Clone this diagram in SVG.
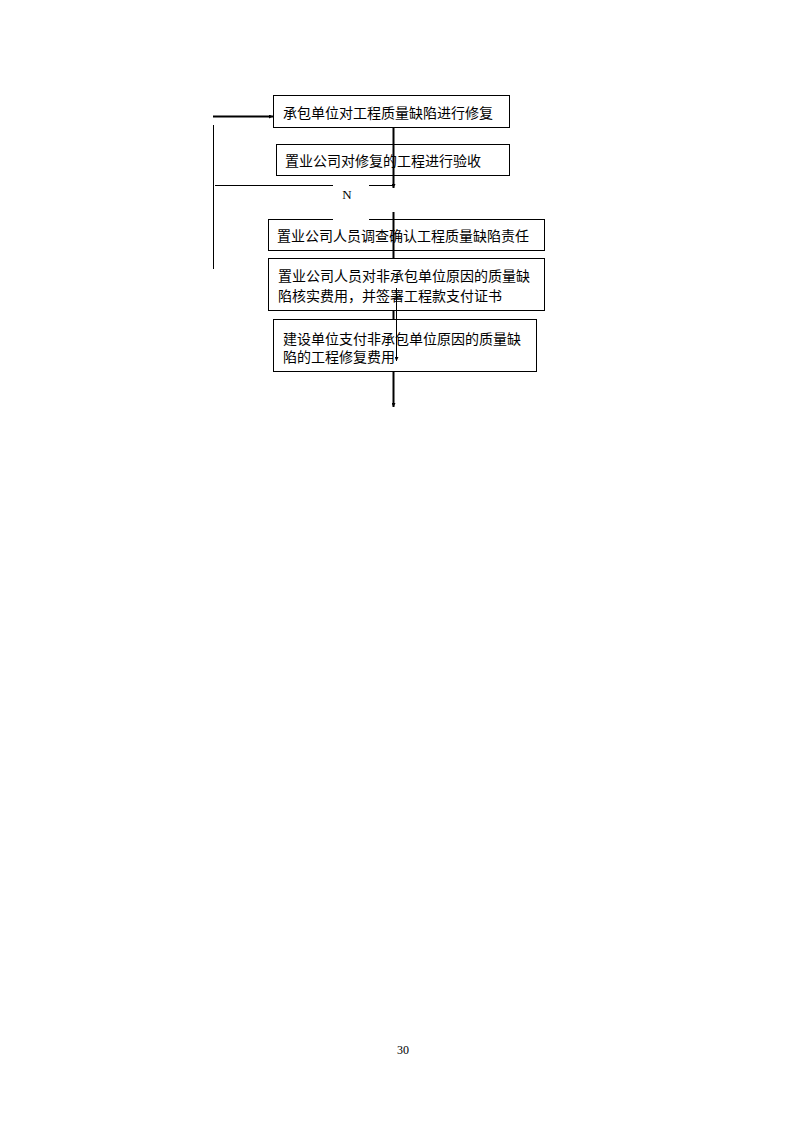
<svg xmlns="http://www.w3.org/2000/svg" width="794" height="1123" viewBox="0 0 794 1123">
<defs>
<style>
.box{fill:#fff;stroke:#000;stroke-width:1}
.t{font-family:"Noto Sans CJK SC","Liberation Sans",sans-serif;font-size:14px;fill:#000}
.ln{stroke:#000;fill:none}
.thk{stroke-width:2}
.thn{stroke-width:1}
</style>
<marker id="ah" viewBox="0 0 6 6" refX="6" refY="3" markerWidth="4" markerHeight="4" orient="auto" markerUnits="userSpaceOnUse">
<path d="M0,0 L6,3 L0,6 z" fill="#000"/>
</marker>
</defs>
<rect width="794" height="1123" fill="#fff"/>
<g id="n1"><rect class="box" x="273.5" y="95.5" width="236" height="32"/><text class="t" x="283" y="118">承包单位对工程质量缺陷进行修复</text></g>
<g id="n2"><rect class="box" x="276.5" y="144.5" width="233" height="31"/><text class="t" x="285" y="166">置业公司对修复的工程进行验收</text></g>
<g id="n3"><rect class="box" x="268.5" y="219.5" width="276" height="31"/><text class="t" x="277" y="241">置业公司人员调查确认工程质量缺陷责任</text></g>
<g id="n4"><rect class="box" x="268.5" y="258.5" width="276" height="52"/><text class="t" x="278" y="281">置业公司人员对非承包单位原因的质量缺</text><text class="t" x="278" y="301">陷核实费用，并签署工程款支付证书</text></g>
<g id="n5"><rect class="box" x="273.5" y="319.5" width="263" height="52"/><text class="t" x="283" y="344">建设单位支付非承包单位原因的质量缺</text><text class="t" x="283" y="362">陷的工程修复费用</text></g>
<g id="connectors">
<line class="ln thk" x1="213" y1="116.5" x2="273" y2="116.5" marker-end="url(#ah)"/>
<line class="ln thn" x1="213.5" y1="125" x2="213.5" y2="269"/>
<line class="ln thk" x1="393.5" y1="127" x2="393.5" y2="188" marker-end="url(#ah)"/>
<line class="ln thn" x1="215" y1="185.5" x2="393" y2="185.5"/>
<line class="ln thk" x1="393.5" y1="212" x2="393.5" y2="258"/>
<line class="ln thn" x1="396.5" y1="288" x2="396.5" y2="361" marker-end="url(#ah)"/>
<line class="ln thk" x1="393.5" y1="311" x2="393.5" y2="319"/>
<line class="ln thk" x1="393.5" y1="372" x2="393.5" y2="407" marker-end="url(#ah)"/>
</g>
<g id="label-N"><rect x="333" y="184" width="36" height="37" fill="#fff"/><text x="347" y="199" font-family="Liberation Serif,serif" font-size="13" text-anchor="middle" fill="#000">N</text></g>
<text x="403" y="1054" font-family="Liberation Serif,serif" font-size="12" text-anchor="middle" fill="#000">30</text>
</svg>
